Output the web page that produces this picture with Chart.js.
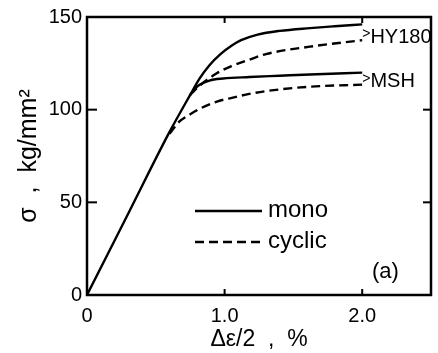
<!DOCTYPE html>
<html>
<head>
<meta charset="utf-8">
<title>Monotonic vs cyclic stress-strain curves (a)</title>
<script src="https://cdn.jsdelivr.net/npm/chart.js"></script>
<style>
    body { margin: 0; background: #fff; }
    #wrap { width: 438px; height: 353px; }
</style>
</head>
<body>
<div id="wrap"><canvas id="chart"></canvas></div>
<script>
    // axis ticks
    const xTicks = [0, 1, 2];
    const yTicks = [0, 50, 100, 150];

    // HY180 monotonic (includes the shared elastic part)
    const hyMonoX = [0, 0.3, 0.6, 0.75, 0.82, 0.89, 0.97, 1.05, 1.12, 1.24, 1.4, 1.62, 1.8, 2.0];
    const hyMonoY = [0, 44, 88, 108, 117, 124, 130, 134.5, 137.5, 140.5, 142.5, 144, 145, 146];

    // MSH monotonic
    const mshMonoX = [0.75, 0.8, 0.89, 0.99, 1.18, 1.4, 1.62, 2.0];
    const mshMonoY = [108, 112.5, 115.7, 116.8, 117.6, 118.3, 119, 120];

    // HY180 cyclic
    const hyCycX = [0.75, 0.82, 0.94, 1.05, 1.18, 1.3, 1.62, 2.0];
    const hyCycY = [108, 113, 119.5, 123.5, 127, 130, 134, 137.5];

    // MSH cyclic
    const mshCycX = [0.6, 0.67, 0.75, 0.82, 0.95, 1.06, 1.18, 1.3, 1.62, 2.0];
    const mshCycY = [87, 93.5, 97.5, 100.5, 104.5, 106.5, 108.5, 110, 112.4, 113.5];

    const legendItems = ['mono', 'cyclic'];
    const curveNames = ['HY180', 'MSH'];

    const DASH = [9, 5];
    const FONT = "'Liberation Sans', Arial, sans-serif";

    function pts(xs, ys) {
        return xs.map((x, i) => ({ x: x, y: ys[i] }));
    }

    function curve(xs, ys, dashed) {
        return {
            data: pts(xs, ys),
            showLine: true,
            borderColor: '#000',
            borderWidth: 2.4,
            borderDash: dashed ? DASH : [],
            pointRadius: 0,
            cubicInterpolationMode: 'monotone'
        };
    }

    // frame, inward ticks, legend and curve labels
    const decor = {
        id: 'decor',
        afterDraw(chart) {
            const { ctx, chartArea: a, scales: { x, y } } = chart;
            const line = (x1, y1, x2, y2) => {
                ctx.beginPath();
                ctx.moveTo(x1, y1);
                ctx.lineTo(x2, y2);
                ctx.stroke();
            };
            ctx.save();
            ctx.strokeStyle = '#000';
            ctx.fillStyle = '#000';
            ctx.lineWidth = 2.5;
            ctx.strokeRect(a.left, a.top, a.right - a.left, a.bottom - a.top);

            ctx.lineWidth = 2;
            xTicks.slice(1).forEach(v => {
                const px = x.getPixelForValue(v);
                line(px, a.bottom, px, a.bottom - 6);
                line(px, a.top, px, a.top + 6);
            });
            yTicks.slice(1, -1).forEach(v => {
                const py = y.getPixelForValue(v);
                line(a.left, py, a.left + 10, py);
                line(a.right, py, a.right - 8, py);
            });

            // legend
            ctx.lineWidth = 2.4;
            ctx.font = '24px ' + FONT;
            ctx.textAlign = 'left';
            ctx.textBaseline = 'middle';
            legendItems.forEach((label, i) => {
                const ly = a.top + 194 + i * 31;
                ctx.setLineDash(i === 1 ? DASH : []);
                line(a.left + 108, ly, a.left + 175, ly);
                ctx.setLineDash([]);
                ctx.fillText(label, a.left + 181, ly - 1);
            });

            // curve end labels: small ">" then the name
            const lx = x.getPixelForValue(2.0);
            [139, 115].forEach((v, i) => {
                const ly = y.getPixelForValue(v);
                ctx.font = '14px ' + FONT;
                ctx.fillText('>', lx, ly - 3);
                const w = ctx.measureText('>').width;
                ctx.font = '20px ' + FONT;
                ctx.fillText(curveNames[i], lx + w, ly);
            });

            ctx.font = '22px ' + FONT;
            ctx.fillText('(a)', a.right - 59, a.bottom - 23);
            ctx.restore();
        }
    };

    new Chart(document.getElementById('chart'), {
        type: 'scatter',
        data: {
            datasets: [
                curve(hyMonoX, hyMonoY, false),
                curve(mshMonoX, mshMonoY, false),
                curve(hyCycX, hyCycY, true),
                curve(mshCycX, mshCycY, true)
            ]
        },
        options: {
            responsive: true,
            maintainAspectRatio: false,
            animation: false,
            layout: { padding: { top: 17, right: 7, left: 0, bottom: 0 } },
            plugins: {
                legend: { display: false },
                tooltip: { enabled: false }
            },
            scales: {
                x: {
                    type: 'linear',
                    min: 0,
                    max: 2.5,
                    afterFit: s => { s.height = 58; },
                    afterBuildTicks: s => { s.ticks = xTicks.map(v => ({ value: v })); },
                    grid: { display: false, drawTicks: false },
                    border: { display: false },
                    ticks: {
                        color: '#000',
                        padding: 9,
                        font: { family: FONT, size: 20 },
                        callback: v => v === 0 ? '0' : v.toFixed(1)
                    },
                    title: {
                        display: true,
                        text: 'Δε/2  ,  %',
                        color: '#000',
                        font: { family: FONT, size: 23, lineHeight: 1 },
                        padding: { top: 0, bottom: 2 }
                    }
                },
                y: {
                    type: 'linear',
                    min: 0,
                    max: 150,
                    afterFit: s => { s.width = 87; },
                    afterBuildTicks: s => { s.ticks = yTicks.map(v => ({ value: v })); },
                    grid: { display: false, drawTicks: false },
                    border: { display: false },
                    ticks: {
                        color: '#000',
                        padding: 5,
                        font: { family: FONT, size: 20 }
                    },
                    title: {
                        display: true,
                        text: 'σ  ,  kg/mm²',
                        color: '#000',
                        font: { family: FONT, size: 25, lineHeight: 1 },
                        padding: { top: 17, bottom: 0 }
                    }
                }
            }
        },
        plugins: [decor]
    });
</script>
</body>
</html>
